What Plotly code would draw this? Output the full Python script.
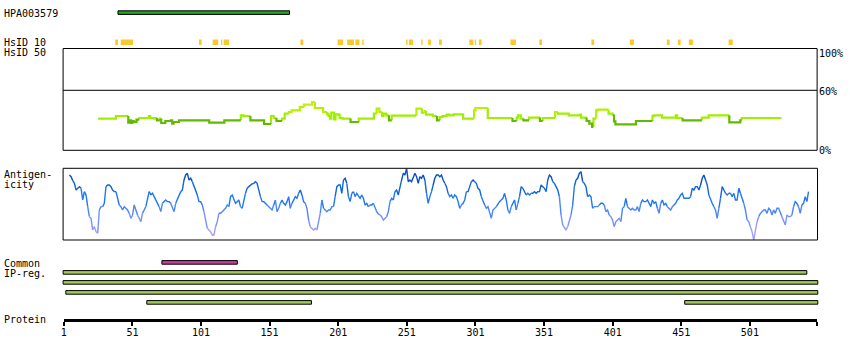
import plotly.graph_objects as go

W, H = 850, 360
PROTEIN_LEN = 550

# ---------------- data ----------------
hpa_start, hpa_end = 41, 165

hsid10_start = [39, 43, 46, 49, 100, 110, 116, 118, 174, 201, 208, 214, 219, 251, 253, 262, 267, 275,
                297, 301, 304, 327, 348, 386, 414, 441, 449, 457, 486]
hsid10_end = [40, 45, 48, 51, 101, 113, 116, 121, 175, 204, 212, 216, 219, 251, 255, 262, 268, 276,
              299, 301, 305, 330, 349, 387, 416, 442, 450, 459, 488]

hsid50_pos = [26, 39, 48, 49, 50, 51, 52, 54, 56, 63, 64, 67, 68, 69, 71, 72, 75, 79, 80, 81, 85, 107,
              118, 130, 132, 137, 147, 152, 154, 156, 160, 162, 165, 167, 173, 176, 182, 184, 190, 193,
              194, 195, 196, 198, 199, 201, 202, 204, 210, 216, 227, 229, 231, 233, 234, 236, 238, 240,
              258, 262, 264, 265, 270, 273, 275, 277, 280, 282, 285, 292, 300, 301, 310, 328, 331, 332,
              334, 336, 340, 348, 350, 359, 361, 369, 377, 378, 382, 384, 386, 387, 389, 390, 398, 401,
              402, 403, 418, 430, 431, 437, 447, 448, 452, 466, 471, 486, 494, 495, 524]
hsid50_val = [31.7, 34.3, 27.7, 30, 27.3, 29.3, 28.3, 30.7, 32.3, 34.3, 32.3, 31.7, 32.3, 30, 31.7, 27.3,
              29.3, 30, 26.7, 28.3, 30, 27.7, 30, 35, 34.3, 30, 26.3, 34.3, 32.3, 29.3, 31.7, 36.7, 38.3,
              40, 43.3, 45.7, 48.3, 42.3, 38.3, 36, 34.3, 31.7, 37.7, 31, 36, 35.7, 32.3, 31.7, 28.3,
              31.7, 36.7, 41.7, 38.3, 34.3, 36.7, 35, 30, 34.7, 41.7, 37.7, 39.3, 35.7, 34.3, 30, 33.3,
              34.3, 35.7, 35, 36, 31.7, 40, 42.3, 32.3, 29.3, 32.7, 35, 31.7, 30, 32.7, 29.3, 32.3, 38.3,
              36.7, 35, 35.7, 32.7, 29.3, 26.7, 23.3, 31.7, 40, 40.7, 36.7, 35.7, 29, 26, 29.3, 34.3, 35,
              32.7, 35, 32.3, 30, 32.7, 35, 28, 30, 32.3, 32.3]

antigen_first = 5.115      # residue of first sample
antigen_step = 1.2104      # residues between samples
antigen_score = [
    195, 190, 178, 170, 150, 155, 160, 155, 120, 145,
    135, 100, 70, 65, 30, 40, 25, 20, 90, 100,
    100, 110, 160, 165, 165, 160, 150, 145, 145, 125,
    105, 100, 90, 100, 95, 90, 80, 65, 75, 105,
    90, 75, 65, 55, 80, 90, 100, 120, 145, 135,
    140, 130, 120, 115, 100, 85, 110, 115, 120, 115,
    115, 110, 95, 85, 110, 120, 130, 145, 150, 180,
    195, 200, 180, 185, 175, 160, 145, 135, 115, 115,
    105, 85, 55, 35, 30, 25, 15, 15, 40, 55,
    80, 80, 85, 90, 95, 105, 100, 130, 135, 125,
    110, 115, 120, 100, 95, 120, 140, 155, 160, 165,
    168, 170, 175, 170, 150, 130, 115, 115, 110, 105,
    100, 95, 90, 105, 120, 85, 95, 110, 120, 110,
    105, 115, 130, 95, 110, 120, 130, 125, 140, 150,
    135, 115, 110, 95, 60, 40, 35, 30, 35, 30,
    60, 80, 120, 95, 90, 85, 90, 90, 100, 100,
    130, 160, 165, 165, 140, 180, 185, 170, 130, 115,
    140, 145, 130, 140, 130, 125, 135, 125, 105, 110,
    100, 105, 105, 110, 95, 85, 78, 75, 70, 60,
    65, 70, 85, 115, 125, 120, 145, 150, 135, 160,
    180, 200, 195, 215, 175, 180, 175, 185, 200, 190,
    170, 190, 185, 195, 180, 140, 110, 130, 145, 165,
    185, 195, 195, 190,
    195, 180, 170, 160, 140, 130, 135, 125, 135, 130,
    115, 95, 105, 110, 120, 145, 145, 160, 175, 180,
    175, 170, 155, 150, 130, 120, 105, 95, 100, 85,
    65, 90, 95, 100, 110, 115, 120, 125, 140, 120,
    90, 80, 100, 110, 120, 90, 110, 130, 160, 155,
    145, 135, 140, 135, 140, 140, 145, 140, 145, 145,
    165, 160, 155, 145, 180, 195, 190, 175, 170, 160,
    150, 130, 75, 45, 35, 30, 40, 60, 75, 105,
    160, 180, 185, 200, 205, 175, 170, 160, 130, 135,
    130, 95, 100, 100, 100, 105, 110, 110, 105, 85,
    90, 75, 70, 60, 40, 55, 60, 65, 55, 95,
    100, 125, 100, 95, 90, 95, 90, 90, 100, 85,
    110, 120, 115, 115, 120, 110, 100, 120, 110, 115,
    95, 80, 110, 120, 105, 110, 100, 95, 90, 100,
    105, 110, 120, 125, 135, 140, 125, 125, 125, 125,
    130, 155, 150, 160, 160, 150, 165, 185, 195, 180,
    165, 135, 120, 110, 100, 90, 65, 95, 125, 160,
    150, 140, 135, 140, 140, 130, 140, 120, 120, 155,
    140, 125, 110, 90, 60, 55, 40, 25, 0, 25,
    55, 70, 80, 85, 90, 90, 80, 95, 90, 75,
    90, 80, 95, 95, 80, 70, 60, 45, 75, 70,
    70, 75, 100, 115, 110, 100, 80, 105, 110, 130,
    115, 145,
]

common_start = [73]
common_end = [127]

ipreg_start = [1, 1, 3, 62, 454]
ipreg_end = [542, 550, 550, 181, 550]
ipreg_row = [0, 1, 2, 3, 3]

ruler_ticks = [1, 51, 101, 151, 201, 251, 301, 351, 401, 451, 501]

# ---------------- styling ----------------
FONT = "DejaVu Sans Mono"
K = 756 / 549                      # pixels per residue
X_LO = 1 - 61 / K
X_HI = 1 + (W - 61) / K


def hsid_color(v):
    if v < 30.9:
        return "#62b900"
    if v < 38:
        return "#9eef00"
    if v < 44:
        return "#b4f000"
    return "#c8f000"


def antigen_color(s):
    if s >= 175:
        return "#0a50c0"
    if s >= 140:
        return "#0f66dc"
    if s >= 105:
        return "#1f78f2"
    if s >= 75:
        return "#4a86f6"
    if s >= 45:
        return "#7892fa"
    return "#a09cff"


def colored_runs(points, edge_colors):
    out = {}
    cur_c = edge_colors[0]
    cur = [points[0]]
    for i, c in enumerate(edge_colors):
        if c != cur_c:
            out.setdefault(cur_c, []).append(cur)
            cur = [points[i]]
            cur_c = c
        cur.append(points[i + 1])
    out.setdefault(cur_c, []).append(cur)
    return out


fig = go.Figure()

# HsID 50 step line
pts = [(hsid50_pos[0], hsid50_val[0])]
cols = []
for i in range(len(hsid50_pos) - 1):
    pts.append((hsid50_pos[i + 1], hsid50_val[i]))
    cols.append(hsid_color(hsid50_val[i]))
    pts.append((hsid50_pos[i + 1], hsid50_val[i + 1]))
    cols.append(hsid_color(hsid50_val[i + 1]))
for c, runs in colored_runs(pts, cols).items():
    xs, ys = [], []
    for r in runs:
        xs += [p[0] for p in r] + [None]
        ys += [p[1] for p in r] + [None]
    fig.add_trace(go.Scatter(x=xs, y=ys, mode="lines", line=dict(color=c, width=2.2),
                             xaxis="x", yaxis="y2", hoverinfo="skip", showlegend=False))

# Antigenicity line
apts = [(antigen_first + i * antigen_step, s) for i, s in enumerate(antigen_score)]
acols = [antigen_color((antigen_score[i] + antigen_score[i + 1]) / 2) for i in range(len(antigen_score) - 1)]
for c, runs in colored_runs(apts, acols).items():
    xs, ys = [], []
    for r in runs:
        xs += [p[0] for p in r] + [None]
        ys += [p[1] for p in r] + [None]
    fig.add_trace(go.Scatter(x=xs, y=ys, mode="lines", line=dict(color=c, width=1.4),
                             xaxis="x", yaxis="y3", hoverinfo="skip", showlegend=False))

# invisible trace to create ruler subplot
fig.add_trace(go.Scatter(x=[1], y=[-50], xaxis="x2", yaxis="y", mode="markers",
                         marker=dict(opacity=0), hoverinfo="skip", showlegend=False))

shapes = []


def bar(x0, x1, y0, y1, fill):
    shapes.append(dict(type="rect", xref="x", yref="y", x0=x0 - 0.5, x1=x1 + 0.5, y0=y0, y1=y1,
                       fillcolor=fill, line=dict(color="black", width=1), layer="above"))


bar(hpa_start, hpa_end, 10.8, 14.4, "#22a322")
for s, e in zip(hsid10_start, hsid10_end):
    shapes.append(dict(type="rect", xref="x", yref="y", x0=s - 0.5, x1=e + 0.5, y0=39.5, y1=45,
                       fillcolor="#fcc72a", line=dict(width=0), layer="above"))

# HsID 50 panel
shapes.append(dict(type="rect", xref="x", yref="y", x0=0.5, x1=PROTEIN_LEN, y0=48.5, y1=150.3,
                   line=dict(color="black", width=1), fillcolor="rgba(0,0,0,0)"))
shapes.append(dict(type="line", xref="x", yref="y2", x0=0.5, x1=PROTEIN_LEN, y0=60, y1=60,
                   line=dict(color="black", width=1)))
# Antigenicity panel
shapes.append(dict(type="rect", xref="x", yref="y", x0=0.5, x1=PROTEIN_LEN + 0.3, y0=168.3, y1=240,
                   line=dict(color="black", width=1), fillcolor="rgba(0,0,0,0)"))

for s, e in zip(common_start, common_end):
    bar(s, e, 260.6, 264.2, "#c93aa3")
for s, e, r in zip(ipreg_start, ipreg_end, ipreg_row):
    y0 = 270.6 + 10 * r
    bar(s, e, y0, y0 + 3.6, "#a0c95a")

ann = []


def label(text, x, y, anchor="left"):
    ann.append(dict(text=text, xref="paper", yref="y", x=x / W, y=y, xanchor=anchor, yanchor="middle",
                    showarrow=False, font=dict(family=FONT, size=10, color="black")))


label("HPA003579", -1.5, 13)
label("HsID 10", -1.5, 42.5)
label("HsID 50", -1.5, 52.5)
label("100%", 817, 53.5)
label("60%", 817, 91)
label("0%", 817, 150)
label("Antigen-", -1.5, 174)
label("icity", -1.5, 184.5)
label("Common", -1.5, 263)
label("IP-reg.", -1.5, 273.5)
label("Protein", -1.5, 319.5)

fig.update_layout(
    width=W, height=H, margin=dict(l=0, r=0, t=0, b=0),
    paper_bgcolor="white", plot_bgcolor="rgba(0,0,0,0)",
    showlegend=False, shapes=shapes, annotations=ann,
    xaxis=dict(range=[X_LO, X_HI], domain=[0, 1], visible=False, fixedrange=True),
    xaxis2=dict(range=[1, PROTEIN_LEN], domain=[61 / W, 817 / W], anchor="free",
                position=1 - 319.5 / H, showline=True, linewidth=3, linecolor="black",
                ticks="outside", ticklen=4, tickwidth=2, tickcolor="black", ticklabelstandoff=-2,
                tickvals=ruler_ticks + [PROTEIN_LEN], ticktext=[str(t) for t in ruler_ticks] + [""],
                tickfont=dict(family=FONT, size=10, color="black"), showgrid=False, zeroline=False,
                fixedrange=True),
    yaxis=dict(range=[H, 0], domain=[0, 1], visible=False, fixedrange=True),
    yaxis2=dict(range=[0, 100], domain=[1 - 150.3 / H, 1 - 50.3 / H], anchor="x", visible=False,
                fixedrange=True),
    yaxis3=dict(range=[0, 215], domain=[1 - 240 / H, 1 - 168.3 / H], anchor="x", visible=False,
                fixedrange=True),
)

fig.write_html("out.html", config={"displayModeBar": False},
               post_script="document.body.style.margin='0px';document.body.style.overflow='hidden';")
